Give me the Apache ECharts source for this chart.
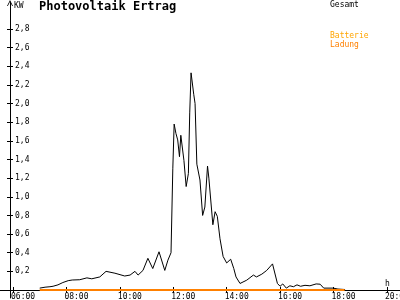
<!DOCTYPE html>
<html><head><meta charset="utf-8">
<script src="https://cdn.jsdelivr.net/npm/echarts@6/dist/echarts.min.js"></script>
<style>html,body{margin:0;padding:0;background:#fff}#c{width:400px;height:300px}</style>
</head><body><div id="c"></div>
<script>
// Gesamt (total PV yield), time of day and kW
const times = ['07:00','07:12','07:23','07:30','07:41','07:52','08:04','08:13','08:30','08:46','08:57','09:15','09:29','09:49','10:11','10:23','10:34','10:41','10:52','11:03','11:14','11:28','11:41','11:48','11:55','11:59','12:02','12:06','12:10','12:14','12:17','12:20','12:24','12:29','12:34','12:37','12:40','12:43','12:46','12:49','12:53','13:00','13:06','13:11','13:17','13:20','13:29','13:34','13:39','13:45','13:52','14:00','14:09','14:16','14:21','14:30','14:45','15:00','15:07','15:19','15:30','15:43','15:47','15:54','16:00','16:06','16:14','16:22','16:30','16:38','16:46','16:56','17:07','17:21','17:30','17:38','17:59','18:10','18:26'];
const gesamt = [0.02,0.03,0.035,0.04,0.055,0.08,0.10,0.107,0.11,0.13,0.12,0.14,0.20,0.18,0.15,0.16,0.20,0.16,0.21,0.34,0.23,0.41,0.21,0.32,0.40,1.30,1.78,1.68,1.61,1.43,1.66,1.64,1.39,1.11,1.25,1.90,2.33,2.34,2.10,2.00,1.35,1.18,0.80,0.89,1.33,1.20,0.70,0.84,0.79,0.55,0.36,0.29,0.33,0.23,0.14,0.07,0.105,0.16,0.14,0.17,0.21,0.28,0.26,0.07,0.04,0.065,0.02,0.045,0.035,0.055,0.04,0.05,0.045,0.065,0.062,0.02,0.02,0.01,0.005];
// Batterie Ladung (battery charging)
const ladungTimes = ['07:00','18:25'];
const ladung = [0,0];
// axis ticks
const yTicks = [0.2,0.4,0.6,0.8,1.0,1.2,1.4,1.6,1.8,2.0,2.2,2.4,2.6,2.8];
const xTicks = [6,8,10,12,14,16,18,20];

const toH = t => { const [h,m] = t.split(':').map(Number); return h + m/60; };
const pair = (ts, vs) => ts.map((t,i) => [toH(t), vs[i]]);
const FONT = 'DejaVu Sans Mono';
const pad = n => (n < 10 ? '0' : '') + n;

const chart = echarts.init(document.getElementById('c'), null, {renderer:'canvas'});
const yBase = {
  type:'value', min:-0.086, max:3.09, offset:-10, position:'left',
  splitLine:{show:false}
};
const xBase = {
  type:'value', min:5.513, max:20.49, position:'bottom',
  splitLine:{show:false}
};
chart.setOption({
  animation:false,
  backgroundColor:'#fff',
  title:{text:'Photovoltaik Ertrag', left:39, top:1, padding:0,
    textStyle:{fontFamily:FONT, fontSize:12, fontWeight:'bold', color:'#000'}},
  legend:[
    {data:['Gesamt'], left:325, top:1, padding:0, itemWidth:0, itemHeight:0, icon:'rect',
      textStyle:{fontFamily:FONT, fontSize:8, color:'#000'}},
    {data:['Batterie Ladung'], left:325, top:31, padding:0, itemWidth:0, itemHeight:0, icon:'rect',
      formatter:() => '{a|Batterie}\n{b|Ladung}',
      textStyle:{fontFamily:FONT, fontSize:8, lineHeight:9,
        rich:{a:{color:'#ffa500', fontFamily:FONT, fontSize:8, lineHeight:9},
              b:{color:'#ff8000', fontFamily:FONT, fontSize:8, lineHeight:9}}}}
  ],
  grid:{left:0, right:0, top:2, bottom:2, containLabel:false, outerBoundsMode:'none'},
  xAxis:[
    Object.assign({}, xBase, {
      axisLine:{show:true, onZero:true, lineStyle:{color:'#000', width:1}},
      axisTick:{show:true, length:3, inside:false, customValues:xTicks, lineStyle:{color:'#000'}},
      axisLabel:{show:true, customValues:xTicks, margin:-5, align:'left', padding:[0,0,0,-2],
        fontFamily:FONT, fontSize:8, color:'#000', hideOverlap:false,
        formatter:v => pad(Math.round(v)) + ':00'}
    }),
    Object.assign({}, xBase, {
      axisLine:{show:false, onZero:true},
      axisTick:{show:true, length:3, inside:true, customValues:xTicks, lineStyle:{color:'#000'}},
      axisLabel:{show:false}
    })
  ],
  yAxis:[
    Object.assign({}, yBase, {
      axisLine:{show:true, onZero:false,
        symbol:['none','path://M0,10 L5,0 L10,10 L8.6,10 L5,2.8 L1.4,10 Z'], symbolSize:[7,6],
        symbolOffset:[0,-1],
        lineStyle:{color:'#000', width:1}},
      axisTick:{show:true, length:3, inside:true, customValues:yTicks, lineStyle:{color:'#000'}},
      axisLabel:{show:true, inside:true, margin:5, customValues:yTicks,
        fontFamily:FONT, fontSize:8, color:'#000',
        formatter:v => v.toFixed(1).replace('.', ',')}
    }),
    Object.assign({}, yBase, {
      axisLine:{show:false, onZero:false},
      axisTick:{show:true, length:3, inside:false, customValues:yTicks, lineStyle:{color:'#000'}},
      axisLabel:{show:false}
    })
  ],
  graphic:[
    {type:'text', left:14, top:2, style:{text:'KW', font:'8px "DejaVu Sans Mono"', fill:'#000'}},
    {type:'text', left:385, top:280, style:{text:'h', font:'8px "DejaVu Sans Mono"', fill:'#000'}}
  ],
  series:[
    {name:'Gesamt', type:'line', xAxisIndex:0, yAxisIndex:0, data:pair(times, gesamt),
      showSymbol:false, symbol:'none', lineStyle:{color:'#000', width:1}, itemStyle:{color:'#000'}, z:3},
    {name:'Batterie Ladung', type:'line', xAxisIndex:0, yAxisIndex:0, data:pair(ladungTimes, ladung),
      showSymbol:false, symbol:'none', lineStyle:{color:'#ff8000', width:2}, itemStyle:{color:'#ff8000'}, z:4}
  ]
});
</script></body></html>
